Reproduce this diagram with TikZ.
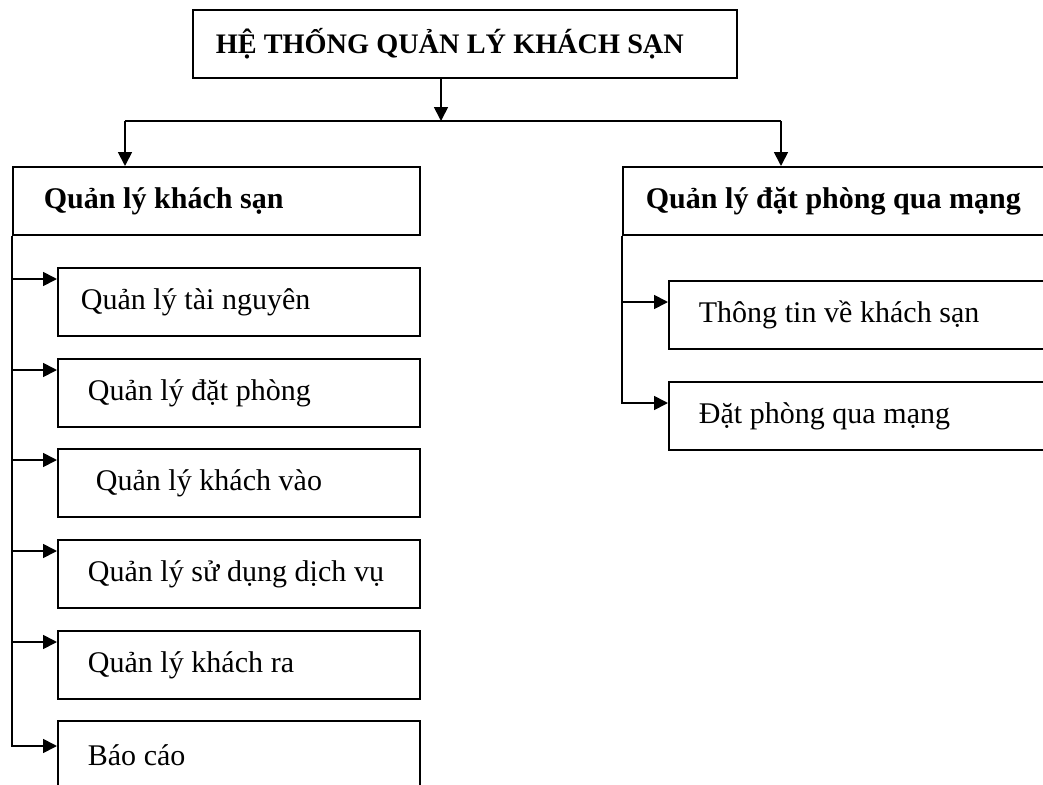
\documentclass[tikz,border=0pt]{standalone}
\usepackage{fontspec}
\setmainfont{Liberation Serif}
\usetikzlibrary{arrows.meta}
% fixed interword space inside the boxes (no stretching)
\newcommand\fixsp{\spaceskip=0.255em\relax\xspaceskip=0.255em\relax}
\begin{document}
\begin{tikzpicture}[x=0.75pt,y=-0.75pt,
  line width=1.3pt,
  link/.style={-{Triangle[length=10.5pt,width=10.5pt]}},
  box/.style={draw, rectangle, anchor=north west, inner sep=0pt,
    align=left, minimum height=51pt, text width=#1,
    font=\fontsize{22.5}{27}\selectfont},
  indent/.style={execute at begin node={\fixsp\noindent\hspace*{#1}}},
  head/.style={box=#1, font=\fontsize{22.5}{27}\selectfont\bfseries},
  item/.style={box=271.5pt, indent=#1},
  ritem/.style={box=300pt, indent=#1}
]
\useasboundingbox (0,0) rectangle (1043,785);
\clip (0,0) rectangle (1043,785);

% root
\node[head=408pt, indent=17.25pt, font=\fontsize{21.2}{26}\selectfont\bfseries]
  (root) at (192,9) {HỆ THỐNG QUẢN LÝ KHÁCH SẠN};

% two branches
\node[head=305.25pt, indent=23.25pt] (hotel) at (12,166) {Quản lý khách sạn};
\node[head=345pt, indent=17.25pt] (online) at (622,166) {Quản lý đặt phòng qua mạng};

% hotel management modules
\node[item=17.25pt] (h1) at (57,267) {Quản lý tài nguyên};
\node[item=22.5pt]  (h2) at (57,358) {Quản lý đặt phòng};
\node[item=28.5pt]  (h3) at (57,448) {Quản lý khách vào};
\node[item=22.5pt]  (h4) at (57,539) {Quản lý sử dụng dịch vụ};
\node[item=22.5pt]  (h5) at (57,630) {Quản lý khách ra};
\node[item=22.5pt]  (h6) at (57,720) {Báo cáo};

% online booking modules
\node[ritem=22.5pt] (o1) at (668,280) {Thông tin về khách sạn};
\node[ritem=22.5pt] (o2) at (668,381) {Đặt phòng qua mạng};

% root fan-out
\coordinate (hub) at (441,121);
\coordinate (jl) at (125,121);
\coordinate (jr) at (781,121);
\draw[link] (root.south -| hub) -- (hub);
\draw (jl) -- (jr);
\draw[link] (jl) -- (jl |- hotel.north);
\draw[link] (jr) -- (jr |- online.north);

% hotel management bus
\draw[link] (hotel.south west) |- ([yshift=-9pt]h1.north west);
\draw[link] (hotel.south west) |- ([yshift=-9pt]h2.north west);
\draw[link] (hotel.south west) |- ([yshift=-9pt]h3.north west);
\draw[link] (hotel.south west) |- ([yshift=-9pt]h4.north west);
\draw[link] (hotel.south west) |- ([yshift=-9pt]h5.north west);
\draw[link] (hotel.south west) |- ([yshift=-19.5pt]h6.north west);

% online booking bus
\draw[link] (online.south west) |- ([yshift=-16.5pt]o1.north west);
\draw[link] (online.south west) |- ([yshift=-16.5pt]o2.north west);
\end{tikzpicture}
\end{document}
